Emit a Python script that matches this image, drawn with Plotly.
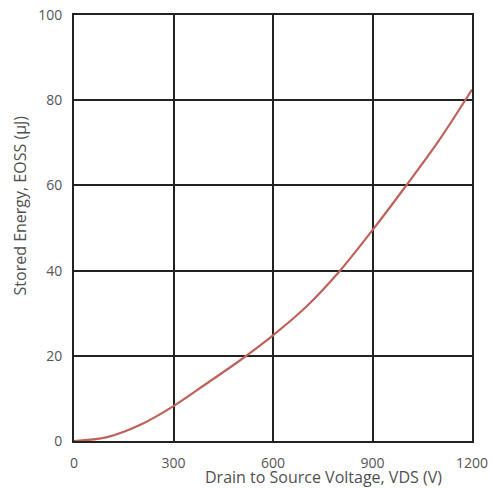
import plotly.graph_objects as go

vds = [0, 100, 200, 300, 400, 500, 600, 700, 800, 900, 1000, 1100, 1200]
eoss = [0, 0.9, 3.8, 8.2, 13.5, 18.9, 24.8, 31.5, 39.8, 49.5, 59.8, 70.5, 82.5]
x_ticks = [0, 300, 600, 900, 1200]
y_ticks = [0, 20, 40, 60, 80, 100]

fig = go.Figure()
fig.add_trace(go.Scatter(x=vds, y=eoss, mode="lines", line=dict(color="#c0625c", width=2.2, shape="spline"),
                         showlegend=False, hoverinfo="skip"))

tick_font = dict(family="Open Sans, Liberation Sans, sans-serif", size=14, color="#555555")
fig.update_xaxes(range=[0, 1200], tickvals=x_ticks, ticktext=[str(v) for v in x_ticks],
                 showgrid=True, gridcolor="#222222", gridwidth=2, zeroline=False,
                 showline=True, linecolor="#222222", linewidth=2, mirror=True, automargin=False,
                 ticks="", tickfont=tick_font, ticklabelstandoff=8, ticklabeloverflow="allow")
fig.update_yaxes(range=[0, 100], tickvals=y_ticks, ticktext=[str(v) for v in y_ticks],
                 showgrid=True, gridcolor="#222222", gridwidth=2, zeroline=False,
                 showline=True, linecolor="#222222", linewidth=2, mirror=True, automargin=False,
                 ticks="", tickfont=tick_font, ticklabelstandoff=7, ticklabeloverflow="allow")

title_font = dict(family="Open Sans, Liberation Sans, sans-serif", size=16, color="#505050")
fig.add_annotation(text="Drain to Source Voltage, VDS (V)", xref="paper", yref="paper",
                   x=0.628, y=0, yshift=-36, showarrow=False, font=title_font, xanchor="center", yanchor="middle")
fig.add_annotation(text="Stored Energy, EOSS (µJ)", xref="paper", yref="paper",
                   x=0, xshift=-54, y=0.553, textangle=-90, showarrow=False, font=title_font,
                   xanchor="center", yanchor="middle")

fig.update_layout(width=494, height=488, margin=dict(l=74, r=22, t=15, b=47),
                  plot_bgcolor="white", paper_bgcolor="white")
fig.write_html("out.html", config={"displayModeBar": False},
               post_script="document.body.style.margin='0';document.body.style.overflow='hidden';")
